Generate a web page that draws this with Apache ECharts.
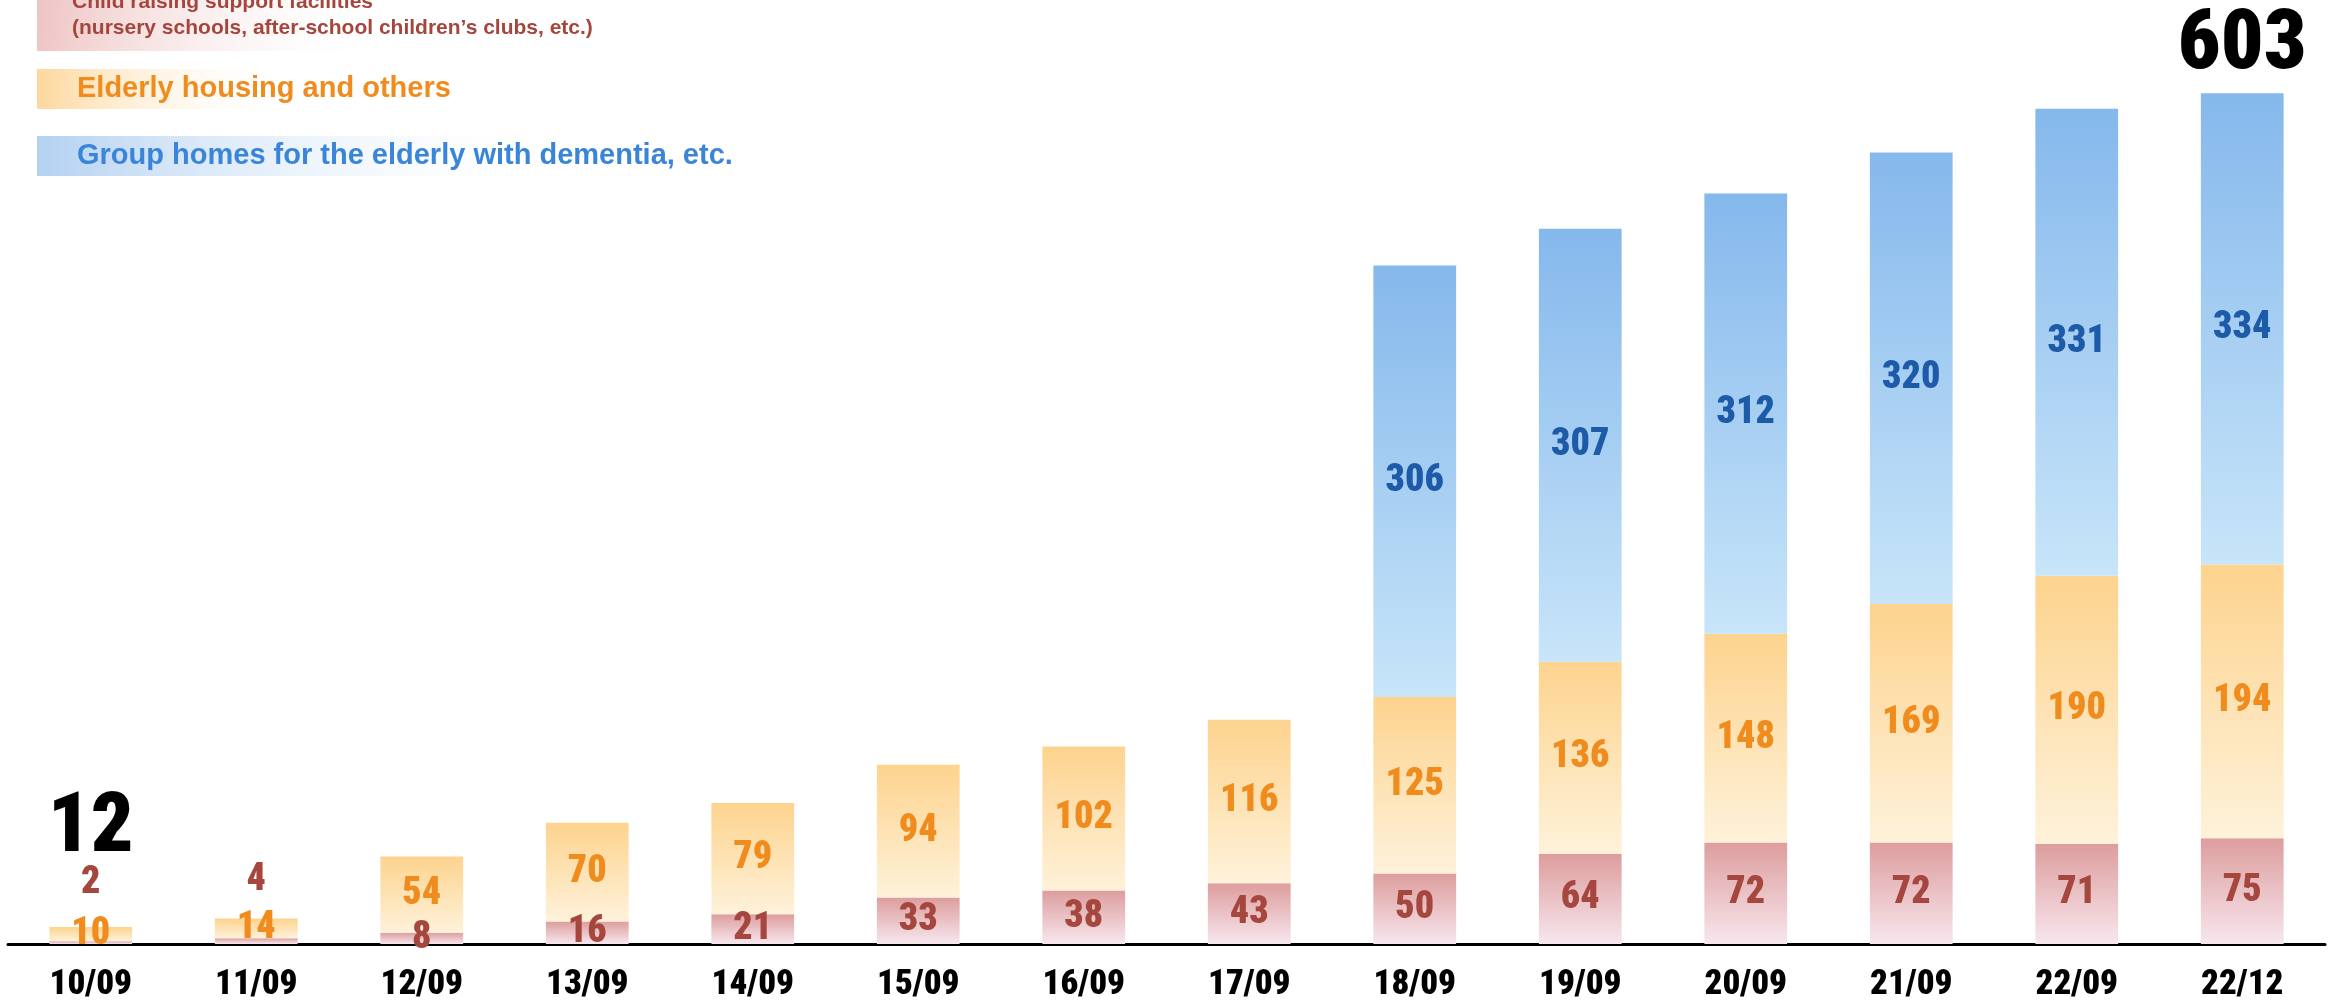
<!DOCTYPE html>
<html><head><meta charset="utf-8">
<script src="https://cdn.jsdelivr.net/npm/echarts/dist/echarts.min.js"></script>
<style>html,body{margin:0;padding:0;background:#fff}#c{width:2331px;height:1005px}</style>
</head><body><div id="c"></div>
<script>
// ---------- data ----------
const categories = ['10/09','11/09','12/09','13/09','14/09','15/09','16/09','17/09','18/09','19/09','20/09','21/09','22/09','22/12'];
const childValues = [2, 4, 8, 16, 21, 33, 38, 43, 50, 64, 72, 72, 71, 75];
const elderlyHousingValues = [10, 14, 54, 70, 79, 94, 102, 116, 125, 136, 148, 169, 190, 194];
const groupHomeValues = ['-', '-', '-', '-', '-', '-', '-', '-', 306, 307, 312, 320, 331, 334];
const seriesNames = [
  'Child raising support facilities\n(nursery schools, after-school children\u2019s clubs, etc.)',
  'Elderly housing and others',
  'Group homes for the elderly with dementia, etc.'
];
const totalLabelIndices = [0, 13];

// ---------- style ----------
const NUM_FONT = 'Roboto, "DejaVu Sans Condensed", sans-serif';
const COND = '900 condensed';
const TXT_FONT = '"Liberation Sans", Arial, sans-serif';
const liftedChildLabel = { 0: -34, 1: -34 };
const totalLabelOffset = { 0: -50, 13: 1 };

const grad = (top, bottom) => new echarts.graphic.LinearGradient(0, 0, 0, 1, [
  { offset: 0, color: top }, { offset: 1, color: bottom }
]);
const valueLabel = (color) => ({
  show: true, position: 'inside', color: color, fontFamily: NUM_FONT,
  fontWeight: COND, fontSize: 38
});
const num = v => (v === '-' || v == null) ? 0 : v;
const totals = categories.map((c, i) => num(childValues[i]) + num(elderlyHousingValues[i]) + num(groupHomeValues[i]));

const childData = childValues.map((v, i) => liftedChildLabel[i] !== undefined
  ? { value: v, label: { position: 'top', offset: [0, liftedChildLabel[i]] } } : v);
const totalData = categories.map((c, i) => totalLabelIndices.includes(i)
  ? { value: 0, label: { show: true, offset: [0, totalLabelOffset[i]] } } : { value: 0, label: { show: false } });

const chart = echarts.init(document.getElementById('c'), null, { renderer: 'canvas' });
chart.setOption({
  animation: false,
  backgroundColor: '#ffffff',
  grid: { left: 8, right: 6, top: 27, bottom: 61, containLabel: false },
  xAxis: {
    type: 'category', data: categories,
    axisLine: { lineStyle: { color: '#000', width: 3 } },
    axisTick: { show: false },
    axisLabel: { color: '#000', fontFamily: NUM_FONT, fontWeight: COND, fontSize: 35, margin: 24 }
  },
  yAxis: { type: 'value', min: 0, max: 650, show: false },
  series: [
    { name: seriesNames[0], type: 'bar', stack: 'a', barWidth: '50%', data: childData,
      itemStyle: { color: grad('#dd9d9d', '#f7e7ee') }, label: valueLabel('#a5473e') },
    { name: seriesNames[1], type: 'bar', stack: 'a', barWidth: '50%', data: elderlyHousingValues,
      itemStyle: { color: grad('#fdd38e', '#fef2da') }, label: valueLabel('#f08c1e') },
    { name: seriesNames[2], type: 'bar', stack: 'a', barWidth: '50%', data: groupHomeValues,
      itemStyle: { color: grad('#85b8ec', '#c8e5f9') }, label: valueLabel('#1d5aa8') },
    { name: 'Total', type: 'bar', stack: 'a', barWidth: '50%', data: totalData,
      itemStyle: { color: 'rgba(0,0,0,0)' },
      label: { show: true, position: 'top', color: '#000', fontFamily: NUM_FONT, fontWeight: COND, fontSize: 84,
        formatter: p => String(totals[p.dataIndex]) } }
  ],
  graphic: [
    { type: 'rect', left: 37, top: -10, shape: { width: 640, height: 61 },
      style: { fill: new echarts.graphic.LinearGradient(0, 0, 1, 1, [
        { offset: 0, color: '#eec3c3' }, { offset: 0.55, color: 'rgba(255,255,255,0)' }]) } },
    { type: 'text', left: 72, top: -11, style: { text: seriesNames[0], fill: '#a5463d',
        font: 'bold 21px ' + TXT_FONT, lineHeight: 26 } },
    { type: 'rect', left: 37, top: 69, shape: { width: 500, height: 40 },
      style: { fill: new echarts.graphic.LinearGradient(0, 0, 1, 0, [
        { offset: 0, color: '#fdd79c' }, { offset: 0.5, color: 'rgba(255,255,255,0)' }]) } },
    { type: 'text', left: 77, top: 74, style: { text: seriesNames[1], fill: '#f08c1e',
        font: 'bold 29px ' + TXT_FONT } },
    { type: 'rect', left: 37, top: 136, shape: { width: 760, height: 40 },
      style: { fill: new echarts.graphic.LinearGradient(0, 0, 1, 0, [
        { offset: 0, color: '#b3d1f1' }, { offset: 0.7, color: 'rgba(255,255,255,0)' }]) } },
    { type: 'text', left: 77, top: 141, style: { text: seriesNames[2], fill: '#3a85d8',
        font: 'bold 29px ' + TXT_FONT } }
  ]
});
</script></body></html>
